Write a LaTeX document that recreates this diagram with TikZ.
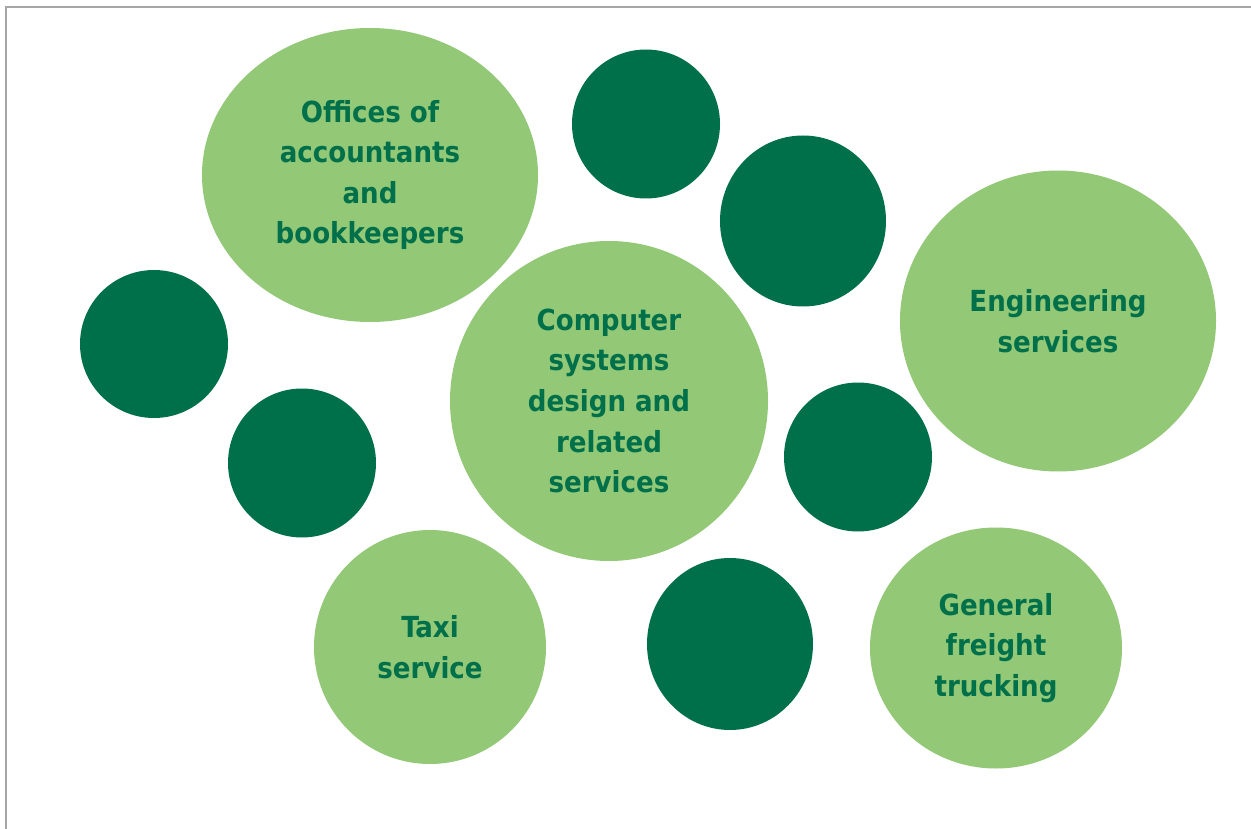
\documentclass[tikz,border=0pt]{standalone}
\usepackage{fontspec}
\setmainfont{DejaVu Sans Condensed}
\usetikzlibrary{shapes.geometric}
\definecolor{lightg}{HTML}{92C876}
\definecolor{darkg}{HTML}{00704A}
\definecolor{frame}{HTML}{A6A6A6}
\tikzset{
  bubble/.style={ellipse, fill=lightg, draw=none, inner sep=0pt, align=center,
    text=darkg, font=\fontsize{29}{40.6}\selectfont\bfseries},
  dot/.style={ellipse, fill=darkg, draw=none, inner sep=0pt},
}
\begin{document}
\begin{tikzpicture}[x=1pt,y=-1pt]
\useasboundingbox (0,0) rectangle (1251,829);
\fill[white] (0,0) rectangle (1251,829);
\draw[frame, line width=2pt] (6,829) -- (6,7) -- (1251,7);
\node[bubble, minimum width=336pt, minimum height=294pt] (off) at (370,175) {Offices of\\accountants\\and\\bookkeepers};
\node[dot, minimum width=148pt, minimum height=149pt] (d1) at (646,124) {};
\node[dot, minimum width=166pt, minimum height=171pt] (d2) at (803,221) {};
\node[bubble, minimum width=316pt, minimum height=301pt] (eng) at (1058,321) {Engineering\\services};
\node[dot, minimum width=148pt, minimum height=148pt] (d3) at (154,344) {};
\node[bubble, minimum width=318pt, minimum height=320pt] (comp) at (609,401) {Computer\\systems\\design and\\related\\services};
\node[dot, minimum width=148pt, minimum height=149pt] (d4) at (302,463) {};
\node[dot, minimum width=148pt, minimum height=149pt] (d5) at (858,457) {};
\node[bubble, minimum width=232pt, minimum height=234pt] (taxi) at (430,647) {Taxi\\service};
\node[dot, minimum width=166pt, minimum height=172pt] (d6) at (730,644) {};
\node[bubble, minimum width=252pt, minimum height=241pt] (gen) at (996,648) {General\\freight\\trucking};
\end{tikzpicture}
\end{document}
